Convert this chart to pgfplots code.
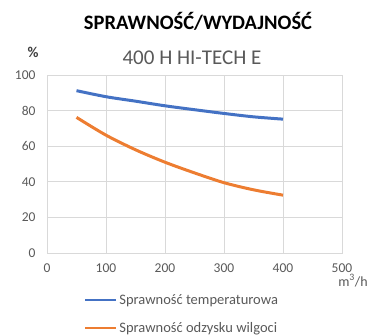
\documentclass[border=0pt]{standalone}
\usepackage{fontspec}
\setmainfont{Carlito}
\usepackage{pgfplots}
\pgfplotsset{compat=1.18}
\definecolor{serblue}{HTML}{4472C4}
\definecolor{serorange}{HTML}{ED7D31}
\definecolor{gridgray}{HTML}{D9D9D9}
\definecolor{labelgray}{HTML}{595959}
\definecolor{darkgray}{HTML}{404040}

\begin{document}
\begin{tikzpicture}[x=1pt,y=1pt]
\path[use as bounding box] (0,0) rectangle (367,-335);
% titles
\node[anchor=base, font=\bfseries\fontsize{20.5}{24}\selectfont] at (198,-29) {SPRAWNOŚĆ/WYDAJNOŚĆ};
\node[anchor=base, text=labelgray, font=\fontsize{21}{25}\selectfont] at (192,-64) {400 H HI-TECH E};
\node[anchor=base, text=darkgray, font=\bfseries\fontsize{15}{18}\selectfont] at (33,-57) {\%};
\node[anchor=base, text=labelgray, font=\fontsize{14}{17}\selectfont] at (353,-286) {m\textsuperscript{3}/h};
\begin{axis}[
  at={(47pt,-253pt)}, anchor=south west,
  scale only axis, width=295pt, height=178pt,
  xmin=0, xmax=500, ymin=0, ymax=100,
  xtick={0,100,...,500}, ytick={0,20,...,100},
  grid=major, major grid style={gridgray, line width=0.8pt},
  axis line style={gridgray, line width=0.8pt},
  tick style={draw=none},
  ticklabel style={font=\fontsize{13.5}{16}\selectfont, text=labelgray},
  /pgf/number format/assume math mode=true,
  yticklabel style={xshift=-8pt},
  xticklabel style={yshift=-7.5pt},
  legend style={at={(0.458,-0.21)}, anchor=north, draw=none, fill=none,
    font=\fontsize{14.5}{17}\selectfont, text=labelgray,
    row sep=12pt, cells={anchor=west}},
  legend image code/.code={\draw[#1, line width=2.2pt] (0pt,0pt) -- (31pt,0pt);},
]
\addplot[serblue, line width=3pt, smooth] coordinates {
  (50,91.2) (100,87.8) (150,85.3) (200,82.7) (250,80.5) (300,78.4) (350,76.5) (400,75.2)};
\addlegendentry{Sprawność temperaturowa}
\addplot[serorange, line width=3pt, smooth] coordinates {
  (50,76.2) (100,66.2) (150,58) (200,51) (250,45) (300,39.5) (350,35.5) (400,32.5)};
\addlegendentry{Sprawność odzysku wilgoci}
\end{axis}
\end{tikzpicture}
\end{document}
